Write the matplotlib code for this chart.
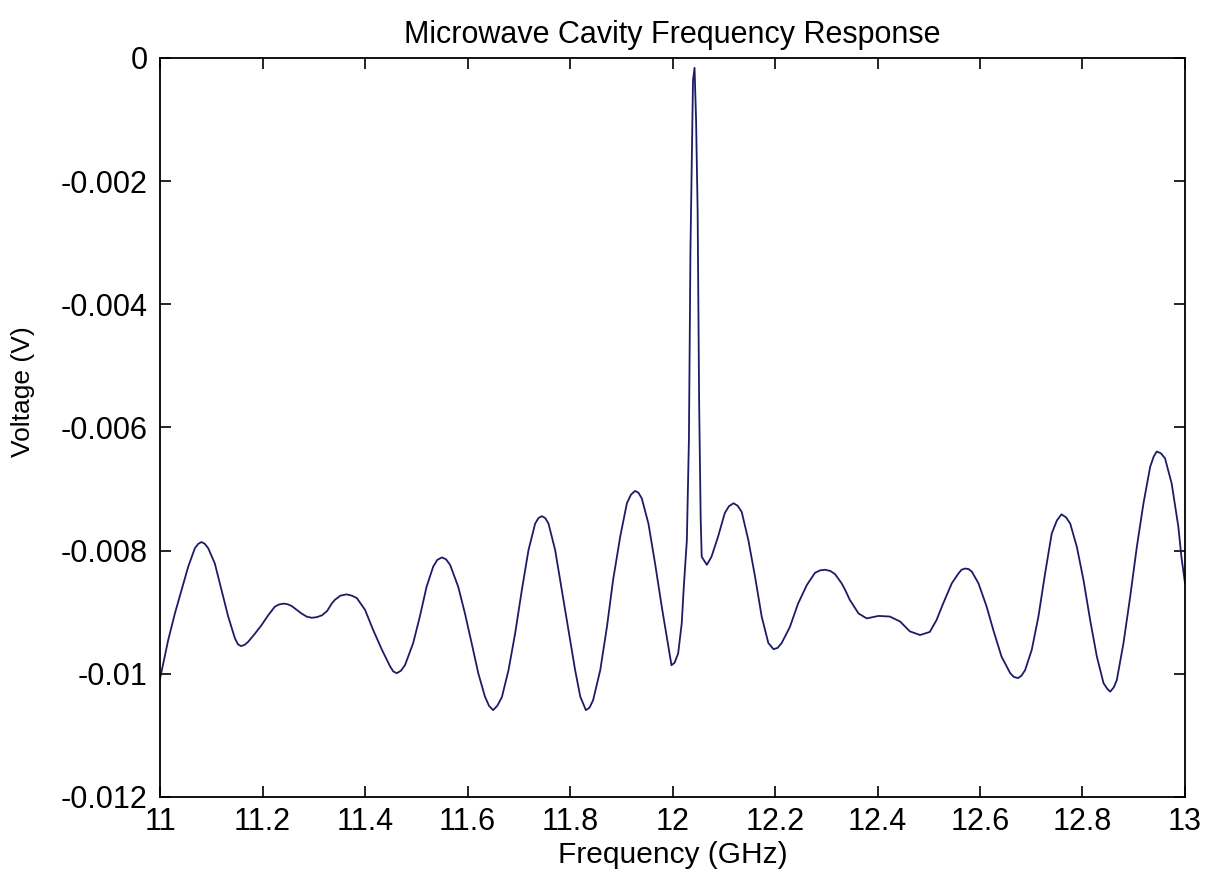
import matplotlib
matplotlib.use("Agg")
import matplotlib.pyplot as plt
import numpy as np

freq_ghz = [
    11.000, 11.016, 11.029, 11.042, 11.055, 11.068, 11.0745, 11.081, 11.0875, 11.094,
    11.107, 11.120, 11.133, 11.146, 11.152, 11.158, 11.165, 11.172, 11.185, 11.198,
    11.211, 11.224, 11.232, 11.241, 11.249, 11.257, 11.276, 11.286, 11.296, 11.306,
    11.316, 11.326, 11.335, 11.341, 11.352, 11.364, 11.374, 11.384, 11.400, 11.416,
    11.433, 11.449, 11.455, 11.462, 11.470, 11.478, 11.494, 11.507, 11.520, 11.533,
    11.541, 11.550, 11.558, 11.566, 11.582, 11.595, 11.608, 11.621, 11.634, 11.642,
    11.650, 11.658, 11.667, 11.680, 11.693, 11.706, 11.719, 11.732, 11.7385, 11.745,
    11.7515, 11.758, 11.771, 11.784, 11.797, 11.810, 11.820, 11.831, 11.838, 11.845,
    11.859, 11.872, 11.884, 11.898, 11.911, 11.919, 11.927, 11.9335, 11.940, 11.953,
    11.966, 11.979, 11.992, 11.998, 12.004, 12.011, 12.018, 12.022, 12.028, 12.032,
    12.035, 12.040, 12.043, 12.046, 12.049, 12.052, 12.055, 12.057, 12.067, 12.076,
    12.089, 12.102, 12.110, 12.119, 12.127, 12.135, 12.148, 12.161, 12.174, 12.187,
    12.197, 12.205, 12.213, 12.229, 12.245, 12.262, 12.278, 12.288, 12.298, 12.308,
    12.317, 12.330, 12.337, 12.346, 12.363, 12.379, 12.402, 12.424, 12.444, 12.463,
    12.483, 12.502, 12.515, 12.528, 12.545, 12.558, 12.564, 12.571, 12.578, 12.584,
    12.597, 12.613, 12.626, 12.642, 12.659, 12.666, 12.674, 12.681, 12.688, 12.701,
    12.714, 12.727, 12.740, 12.750, 12.759, 12.768, 12.776, 12.789, 12.802, 12.815,
    12.828, 12.841, 12.848, 12.854, 12.861, 12.867, 12.880, 12.893, 12.906, 12.919,
    12.932, 12.939, 12.945, 12.953, 12.961, 12.974, 12.987, 12.993, 13.000,
]
voltage_mv = [
    -10.08, -9.45, -9.02, -8.64, -8.26, -7.96, -7.89, -7.86, -7.89, -7.96,
    -8.21, -8.64, -9.07, -9.42, -9.52, -9.55, -9.53, -9.48, -9.35, -9.21,
    -9.05, -8.91, -8.875, -8.86, -8.87, -8.90, -9.02, -9.07, -9.09, -9.08,
    -9.05, -8.98, -8.86, -8.80, -8.73, -8.71, -8.73, -8.77, -8.96, -9.29,
    -9.61, -9.88, -9.96, -9.99, -9.95, -9.86, -9.50, -9.07, -8.59, -8.26,
    -8.15, -8.11, -8.14, -8.23, -8.59, -9.02, -9.50, -9.99, -10.37, -10.52,
    -10.59, -10.52, -10.38, -9.94, -9.34, -8.64, -7.99, -7.56, -7.47, -7.44,
    -7.47, -7.56, -7.99, -8.64, -9.29, -9.94, -10.37, -10.59, -10.55, -10.43,
    -9.94, -9.24, -8.48, -7.77, -7.23, -7.09, -7.03, -7.06, -7.15, -7.56,
    -8.21, -8.91, -9.56, -9.86, -9.82, -9.67, -9.18, -8.59, -7.83, -6.20,
    -3.12, -0.36, -0.16, -1.01, -2.47, -5.63, -7.50, -8.10, -8.23, -8.10,
    -7.77, -7.39, -7.28, -7.23, -7.27, -7.37, -7.83, -8.42, -9.07, -9.50,
    -9.60, -9.58, -9.50, -9.24, -8.86, -8.56, -8.36, -8.32, -8.31, -8.33,
    -8.38, -8.53, -8.64, -8.80, -9.02, -9.10, -9.06, -9.07, -9.15, -9.31,
    -9.37, -9.32, -9.13, -8.86, -8.53, -8.37, -8.31, -8.29, -8.30, -8.34,
    -8.53, -8.91, -9.29, -9.72, -9.99, -10.05, -10.07, -10.03, -9.94, -9.61,
    -9.07, -8.37, -7.72, -7.51, -7.41, -7.46, -7.56, -7.94, -8.48, -9.13,
    -9.72, -10.15, -10.24, -10.29, -10.22, -10.10, -9.50, -8.75, -7.94, -7.23,
    -6.64, -6.47, -6.39, -6.42, -6.50, -6.91, -7.61, -8.10, -8.53,
]

x_ticks = [11, 11.2, 11.4, 11.6, 11.8, 12, 12.2, 12.4, 12.6, 12.8, 13]
x_tick_labels = ["11", "11.2", "11.4", "11.6", "11.8", "12", "12.2", "12.4", "12.6", "12.8", "13"]
y_ticks = [0, -0.002, -0.004, -0.006, -0.008, -0.01, -0.012]
y_tick_labels = ["0", "-0.002", "-0.004", "-0.006", "-0.008", "-0.01", "-0.012"]

plt.rcParams["font.family"] = ["Liberation Sans", "DejaVu Sans"]

fig = plt.figure(figsize=(12.05, 8.76), dpi=100)
ax = fig.add_axes([0.1328, 0.0902, 0.8506, 0.8436])

voltage = np.array(voltage_mv) / 1000.0
ax.plot(freq_ghz, voltage, color="#1c1c66", linewidth=1.3)

ax.set_xlim(11, 13)
ax.set_ylim(-0.012, 0)
ax.set_xticks(x_ticks)
ax.set_xticklabels(x_tick_labels)
ax.set_yticks(y_ticks)
ax.set_yticklabels(y_tick_labels)

ax.tick_params(direction="in", length=8, width=1.2, top=True, right=True,
               labelsize=22, colors="black")
ax.tick_params(axis="x", pad=7)
ax.tick_params(axis="y", pad=9)
for s in ax.spines.values():
    s.set_linewidth(1.3)

ax.set_title("Microwave Cavity Frequency Response", fontsize=22, pad=11)
ax.set_xlabel("Frequency (GHz)", fontsize=21.5)
ax.set_ylabel("Voltage (V)", fontsize=19)
ax.xaxis.set_label_coords(0.5, -0.06)
ax.yaxis.set_label_coords(-0.122, 0.549)

fig.savefig("out.png", dpi=100)
